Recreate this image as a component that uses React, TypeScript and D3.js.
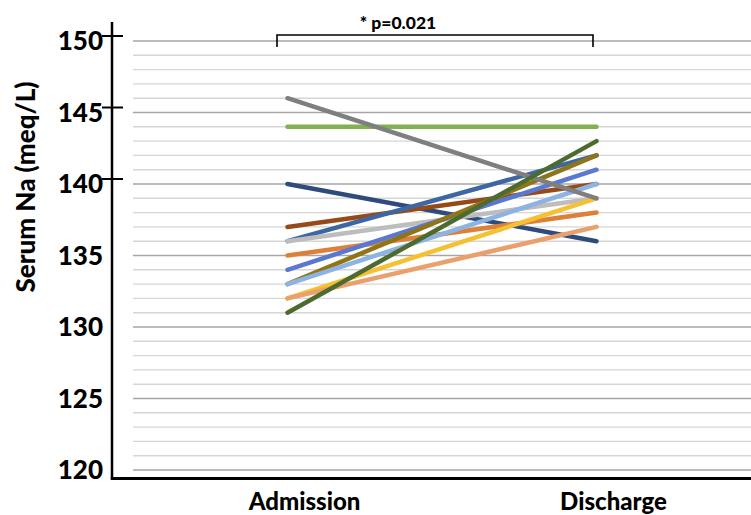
import React from "react";
import * as d3 from "d3";

const categories = ["Admission", "Discharge"];
const admission = [146, 144, 140, 137, 136, 136, 135, 134, 133, 133, 132, 132, 131];
const discharge = [139, 144, 136, 140, 142, 139, 138, 141, 142, 140, 139, 137, 143];
const colors = [
  "#7f7f7f", "#82b052", "#2f4b7c", "#964a17", "#3d67a3", "#bdbdbd", "#dd8039",
  "#5a78cf", "#8f7518", "#8db3e2", "#f5c133", "#e9a06c", "#4e6b2f",
];
// paint order, last on top
const drawOrder = [1, 2, 3, 4, 5, 6, 7, 8, 10, 9, 11, 0, 12];
const yTicks = [120, 125, 130, 135, 140, 145, 150];
const tickMarks = [140, 145, 150];
const pLabel = "* p=0.021";

const W = 751;
const H = 515;
const font = "Lato, 'Open Sans', sans-serif";

export default function App() {
  const y = d3.scaleLinear().domain([120, 150]).range([470, 41]);
  const x = d3.scalePoint().domain(categories).range([133, 751]).padding(0.5);
  const line = d3
    .line<number>()
    .x((_, i) => x(categories[i]) as number)
    .y((d) => y(d));
  const grid = d3.range(120, 151);

  return (
    <svg width={W} height={H} style={{ position: "absolute", left: 0, top: 0, background: "#fff" }}>
      {grid.map((v) => (
        <line
          key={v}
          x1={133}
          x2={W}
          y1={y(v)}
          y2={y(v)}
          stroke={v % 5 === 0 ? "#a6a6a6" : "#d6d6d6"}
          strokeWidth={1.4}
        />
      ))}
      {drawOrder.map((i) => (
        <path
          key={i}
          d={line([admission[i], discharge[i]]) || ""}
          fill="none"
          stroke={colors[i]}
          strokeWidth={4.5}
          strokeLinecap="round"
        />
      ))}
      {/* axes */}
      <line x1={112} x2={112} y1={22} y2={479} stroke="#000" strokeWidth={2.5} />
      <line x1={110.75} x2={W} y1={478.5} y2={478.5} stroke="#000" strokeWidth={3} />
      {tickMarks.map((v) => (
        <line key={v} x1={102} x2={123} y1={y(v) - 5} y2={y(v) - 5} stroke="#000" strokeWidth={2} />
      ))}
      {yTicks.map((v) => (
        <text
          key={v}
          x={103}
          y={y(v)}
          dy="0.36em"
          textAnchor="end"
          fontFamily={font}
          fontWeight={900}
          fontSize={26}
          fill="#000"
        >
          {v}
        </text>
      ))}
      {categories.map((c) => (
        <text
          key={c}
          x={(x(c) as number) + 17}
          y={510}
          textAnchor="middle"
          fontFamily={font}
          fontWeight={900}
          fontSize={24}
          fill="#000"
        >
          {c}
        </text>
      ))}
      <text
        transform={`translate(35,187) rotate(-90)`}
        textAnchor="middle"
        fontFamily={font}
        fontWeight={900}
        fontSize={26}
        fill="#000"
      >
        Serum Na (meq/L)
      </text>
      {/* significance bracket */}
      <path d="M277,47 V35 H593 V47" fill="none" stroke="#000" strokeWidth={1.6} />
      <text x={398} y={29} textAnchor="middle" fontFamily={font} fontWeight={900} fontSize={17.5} fill="#000">
        {pLabel}
      </text>
    </svg>
  );
}
